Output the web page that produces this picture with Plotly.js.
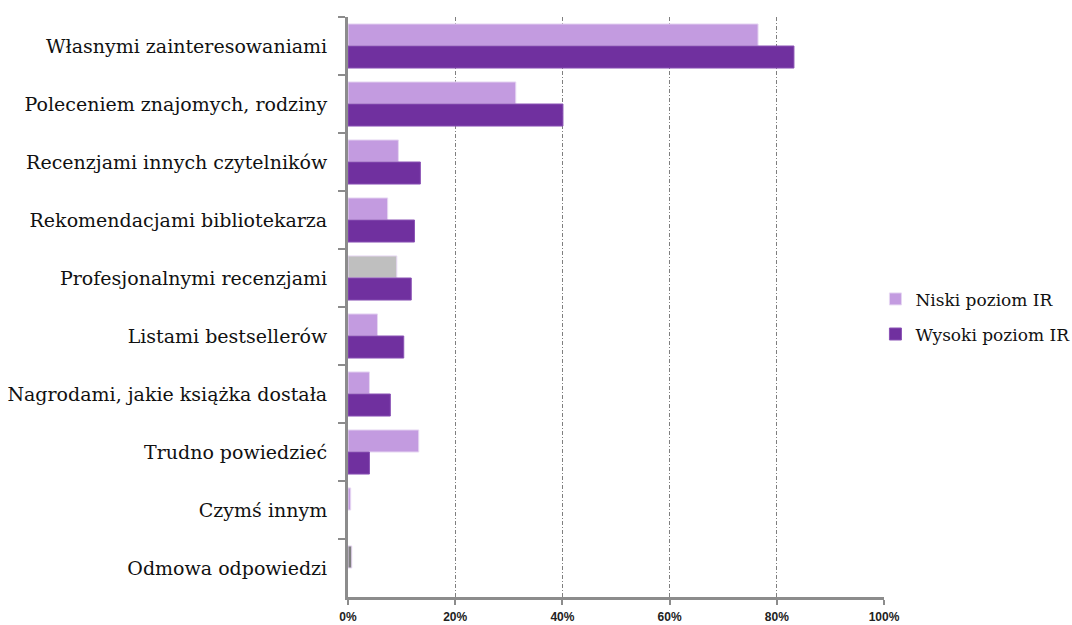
<!DOCTYPE html>
<html>
<head>
<meta charset="utf-8">
<script src="https://cdn.plot.ly/plotly-3.0.1.min.js"></script>
<style>
  html, body { margin: 0; padding: 0; background: #ffffff; }
  #chart { width: 1072px; height: 625px; }
</style>
</head>
<body>
<div id="chart"></div>
<script>
// Answer categories (top to bottom)
const categories = [
  "Własnymi zainteresowaniami",
  "Poleceniem znajomych, rodziny",
  "Recenzjami innych czytelników",
  "Rekomendacjami bibliotekarza",
  "Profesjonalnymi recenzjami",
  "Listami bestsellerów",
  "Nagrodami, jakie książka dostała",
  "Trudno powiedzieć",
  "Czymś innym",
  "Odmowa odpowiedzi"
];

// Share of respondents (%)
const niskiValues  = [76.5, 31.3, 9.4, 7.4, 9.1, 5.5, 4.0, 13.2, 0.5, 0.7];
const wysokiValues = [83.2, 40.1, 13.5, 12.4, 11.8, 10.4, 7.9, 4.0, 0, 0];

const seriesNames = ["Niski poziom IR", "Wysoki poziom IR"];
const xTickValues = [0, 20, 40, 60, 80, 100];
const xTickLabels = ["0%", "20%", "40%", "60%", "80%", "100%"];

const lightPurple = "#c39be0";
const darkPurple = "#70309f";
// a few bars of the low-IR series are drawn in grey
const niskiColors = niskiValues.map((v, i) =>
  categories[i] === "Profesjonalnymi recenzjami" ? "#bfbfbf" :
  categories[i] === "Odmowa odpowiedzi" ? "#808080" : lightPurple);
// no outline on empty bars
const outline = vals => vals.map(v => (v > 0 ? 1 : 0));

const traces = [
  {
    type: "bar", orientation: "h",
    name: seriesNames[0], legendgroup: "niski",
    y: categories, x: niskiValues,
    marker: { color: niskiColors, line: { color: "#e6d6f2", width: outline(niskiValues) } }
  },
  {
    type: "bar", orientation: "h",
    name: seriesNames[1], legendgroup: "wysoki",
    y: categories, x: wysokiValues,
    marker: { color: darkPurple, line: { color: "#8a52b5", width: outline(wysokiValues) } }
  }
];

const layout = {
  width: 1072, height: 625,
  paper_bgcolor: "#ffffff", plot_bgcolor: "#ffffff",
  margin: { l: 348, r: 188, t: 17, b: 28, autoexpand: false },
  barmode: "group",
  bargap: 0.24,
  bargroupgap: 0,
  showlegend: true,
  legend: {
    x: 0.984, y: 0.483, xanchor: "left", yanchor: "middle",
    font: { family: "DejaVu Serif, serif", size: 17, color: "#111111" },
    traceorder: "grouped",
    itemwidth: 30,
    tracegroupgap: 10
  },
  xaxis: {
    range: [0, 100],
    tickvals: xTickValues, ticktext: xTickLabels,
    tickfont: { family: "Liberation Sans, Arial, sans-serif", size: 12, color: "#222222", weight: "bold" },
    showgrid: true, gridcolor: "#7f7f7f", gridwidth: 1, griddash: "4px,2px,1px,2px",
    zeroline: false,
    showline: true, linecolor: "#8c8c8c", linewidth: 3,
    ticks: "outside", ticklen: 5, tickwidth: 2, tickcolor: "#8c8c8c",
    ticklabelstandoff: 2,
    fixedrange: true
  },
  yaxis: {
    type: "category",
    autorange: "reversed",
    tickfont: { family: "DejaVu Serif, serif", size: 19, color: "#111111" },
    showgrid: false, zeroline: false,
    showline: true, linecolor: "#8c8c8c", linewidth: 3,
    ticks: "outside", ticklen: 7, tickwidth: 2, tickcolor: "#8c8c8c",
    tickson: "boundaries",
    ticklabelstandoff: 14,
    fixedrange: true
  }
};

Plotly.newPlot("chart", traces, layout, { displayModeBar: false, staticPlot: true });
</script>
</body>
</html>
